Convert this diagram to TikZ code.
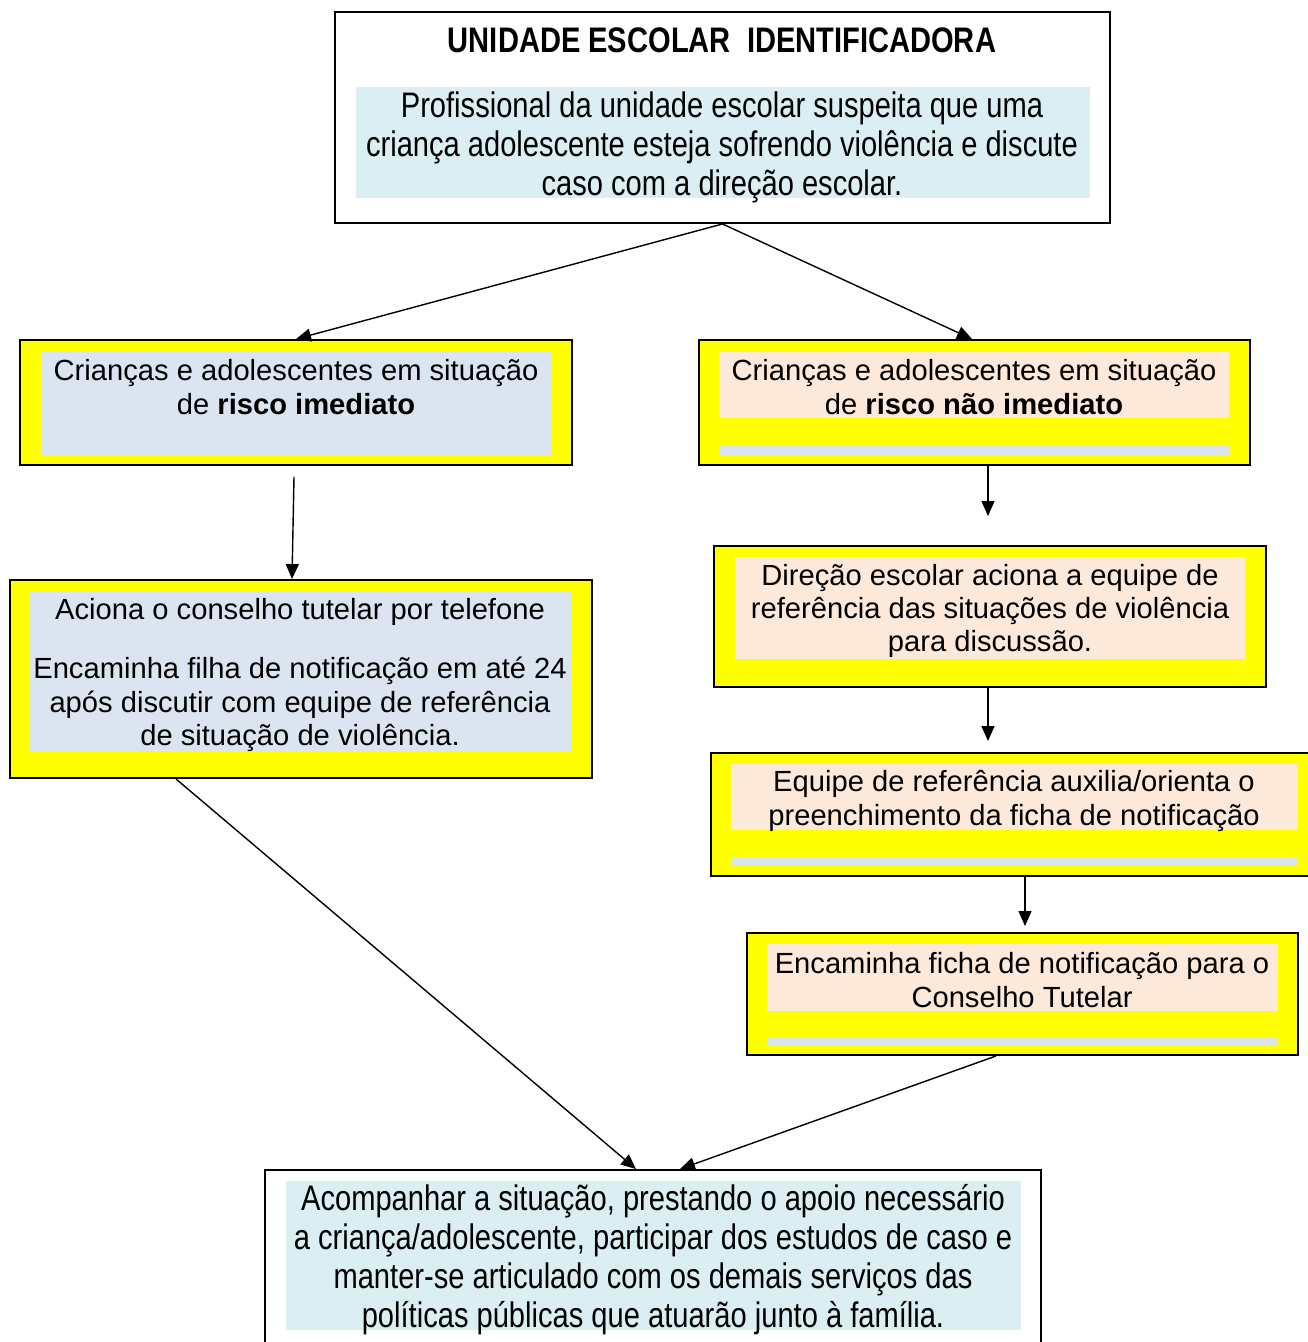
\documentclass[tikz,border=0pt]{standalone}
\usepackage{fontspec}
\setmainfont{Liberation Sans}
\newfontfamily\narrowfont[FakeStretch=0.82]{Liberation Sans}
\usetikzlibrary{arrows.meta,fit}
\definecolor{boxyellow}{HTML}{FFFF00}
\definecolor{shadeblue}{HTML}{DBE5F1}
\definecolor{shadecyan}{HTML}{DAEEF3}
\definecolor{shadepeach}{HTML}{FDE9D9}
\tikzset{
  outer/.style={draw=black, line width=1.1pt, inner sep=0pt},
  yellowbox/.style={outer, fill=boxyellow},
  whitebox/.style={outer, fill=white},
  txt/.style={align=center, inner sep=0pt, font=\fontsize{16.6}{19}\selectfont},
  narrowtxt/.style={align=center, inner sep=0pt, font=\narrowfont\fontsize{20.2}{22.2}\selectfont},
  arr/.style={line width=0.8pt, -{Triangle[length=0.3cm,width=0.26cm]}}
}
\begin{document}
\begin{tikzpicture}[x=0.02cm,y=-0.02cm]
\useasboundingbox (0,0) rectangle (1308,1342);
\node[whitebox, fit={(335,12) (1110,223)}] (escola) {};
\fill[shadecyan] (356,87) rectangle (1090,198);
\node[narrowtxt, font=\narrowfont\bfseries\fontsize{20.2}{22.2}\selectfont] (titulo) at (722,40) {UNIDADE ESCOLAR\ \ IDENTIFICADORA};
\node[narrowtxt] (escolatxt) at (722,147) {Profissional da unidade escolar suspeita que uma\\criança adolescente esteja sofrendo violência e discute\\caso com a direção escolar.};
\node[yellowbox, fit={(20,340) (572,465)}] (imediato) {};
\fill[shadeblue] (41,352) rectangle (551,455);
\node[txt] (imediatotxt) at (296,387) {Crianças e adolescentes em situação\\de \textbf{risco imediato}};
\node[yellowbox, fit={(699,340) (1250,465)}] (naoimediato) {};
\fill[shadepeach] (719,352) rectangle (1229,418);
\fill[shadeblue] (719,445) rectangle (1229,455);
\node[txt] (naoimediatotxt) at (974,387) {Crianças e adolescentes em situação\\de \textbf{risco não imediato}};
\node[yellowbox, fit={(10,580) (592,778)}] (conselho) {};
\fill[shadeblue] (30,592) rectangle (571,751);
\node[txt] (conselhotxt) at (300,675) {Aciona o conselho tutelar por telefone\\[15pt]Encaminha filha de notificação em até 24\\após discutir com equipe de referência\\de situação de violência.};
\node[yellowbox, fit={(714,546) (1266,687)}] (direcao) {};
\fill[shadepeach] (735,557) rectangle (1245,659);
\node[txt] (direcaotxt) at (990,611) {Direção escolar aciona a equipe de\\referência das situações de violência\\para discussão.};
\node[yellowbox, fit={(711,753) (1320,876)}] (equipe) {};
\fill[shadepeach] (731,764) rectangle (1298,830);
\fill[shadeblue] (731,857) rectangle (1298,865);
\node[txt] (equipetxt) at (1014,801) {Equipe de referência auxilia/orienta o\\preenchimento da ficha de notificação};
\node[yellowbox, fit={(747,933) (1298,1055)}] (ficha) {};
\fill[shadepeach] (767,944) rectangle (1278,1011);
\fill[shadeblue] (767,1038) rectangle (1278,1046);
\node[txt] (fichatxt) at (1022,980) {Encaminha ficha de notificação para o\\Conselho Tutelar};
\node[whitebox, fit={(265,1170) (1041,1360)}] (acompanhar) {};
\fill[shadecyan] (286,1181) rectangle (1021,1330);
\node[narrowtxt] (acompanhartxt) at (653,1260) {Acompanhar a situação, prestando o apoio necessário\\a criança/adolescente, participar dos estudos de caso e\\manter-se articulado com os demais serviços das\\políticas públicas que atuarão junto à família.};
\coordinate (p1) at (988,516);
\coordinate (p2) at (988,741);
\coordinate (p3) at (1025,926);
\draw[arr] (escola.south) -- (imediato.north);
\draw[arr] (escola.south) -- ([xshift=-0.05cm]naoimediato.north);
\draw[arr] ([xshift=-0.04cm,yshift=-0.22cm]imediato.south) -- ([xshift=-0.18cm]conselho.north);
\draw[arr] (naoimediato.south -| p1) -- (p1);
\draw[arr] (direcao.south -| p2) -- (p2);
\draw[arr] (equipe.south -| p3) -- (p3);
\draw[arr] ([xshift=-2.5cm]conselho.south) -- ([xshift=-0.34cm]acompanhar.north);
\draw[arr] ([xshift=-0.53cm]ficha.south) -- ([xshift=0.54cm]acompanhar.north);
\end{tikzpicture}
\end{document}
